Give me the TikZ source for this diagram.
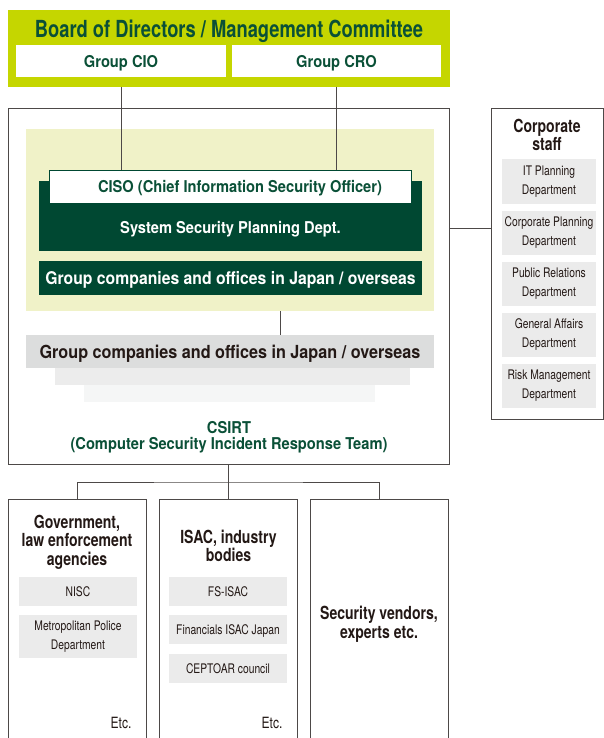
\documentclass[tikz,border=0pt]{standalone}
\usepackage{fontspec}
\setmainfont{TeX Gyre Heros}
\newfontfamily\semifont{TeX Gyre Heros}[FakeStretch=0.9]
\newfontfamily\condfont{TeX Gyre Heros}[FakeStretch=0.78]

\definecolor{lime}{RGB}{197,214,0}
\definecolor{darkgreen}{RGB}{0,72,50}
\definecolor{textgreen}{RGB}{10,80,55}
\definecolor{paleyellow}{RGB}{240,242,200}
\definecolor{gray1}{RGB}{220,221,221}
\definecolor{gray2}{RGB}{236,236,236}
\definecolor{gray3}{RGB}{245,246,246}
\definecolor{deptgray}{RGB}{235,235,235}
\definecolor{linegray}{RGB}{77,73,72}
\definecolor{textblack}{RGB}{35,24,21}

\begin{document}
\begin{tikzpicture}[x=1pt,y=-1pt]
	\tikzset{fillbox/.style = {shape=rectangle, inner sep=0pt, outer sep=0pt},
		frame/.style = {fillbox, draw=linegray, line width=0.8pt},
		wire/.style = {draw=linegray, line width=0.8pt},
		greentext/.style = {text=textgreen, font=\semifont\bfseries\fontsize{16.3}{17}\selectfont},
		whitetext/.style = {text=white, font=\semifont\bfseries\fontsize{16.3}{17}\selectfont},
		title/.style = {text=textblack, align=center, font=\condfont\bfseries\fontsize{18}{18.5}\selectfont},
		dept/.style = {fillbox, fill=deptgray, minimum width=94pt, minimum height=44pt, align=center, text=textblack, font=\condfont\fontsize{13.2}{19}\selectfont},
		member/.style = {dept, minimum width=118pt, minimum height=29pt}}

	\useasboundingbox[fill=white] (0,0) rectangle (603,738);

	\node[fillbox, fill=lime, minimum width=442pt, minimum height=77pt] (board) at (229,48.5) {};
	\node[text=textgreen, font=\condfont\bfseries\fontsize{23.5}{26}\selectfont] (board_title) at (229,31) {Board of Directors / Management Committee};
	\node[fillbox, fill=white, minimum width=210pt, minimum height=32pt, text depth=0pt, greentext] (cio) at (121,61) {Group CIO};
	\node[fillbox, fill=white, minimum width=209pt, minimum height=32pt, text depth=0pt, greentext] (cro) at (336.5,61) {Group CRO};

	\node[frame, minimum width=441pt, minimum height=356pt] (csirt) at (228.5,286) {};
	\node[fillbox, fill=paleyellow, minimum width=408pt, minimum height=182pt] (hq) at (230,220) {};
	\node[fillbox, fill=darkgreen, minimum width=383pt, minimum height=70pt] (ssp) at (230.5,216) {};
	\node[fillbox, fill=white, draw=darkgreen, line width=0.6pt, minimum width=362pt, minimum height=33pt] (ciso) at (230,186.5) {};
	\node[greentext] (ciso_label) at (240,188) {CISO (Chief Information Security Officer)};
	\node[whitetext] (ssp_label) at (230.5,229) {System Security Planning Dept.};
	\node[fillbox, fill=darkgreen, minimum width=383pt, minimum height=34pt, text depth=0pt, whitetext, font=\semifont\bfseries\fontsize{17.5}{18}\selectfont] (group_jp) at (230.5,278) {Group companies and offices in Japan / overseas};

	\node[fillbox, fill=gray3, minimum width=291pt, minimum height=17pt] (shade_2) at (229.5,393.5) {};
	\node[fillbox, fill=gray2, minimum width=355pt, minimum height=17pt] (shade_1) at (232.5,376.5) {};
	\node[fillbox, fill=gray1, minimum width=408pt, minimum height=33pt, text depth=0pt, text=textblack, font=\semifont\bfseries\fontsize{18}{18}\selectfont] (group_ov) at (230,351.5) {Group companies and offices in Japan / overseas};
	\node[greentext, align=center, font=\semifont\bfseries\fontsize{16.3}{16}\selectfont] (csirt_label) at (229,437) {CSIRT\\(Computer Security Incident Response Team)};

	\node[frame, minimum width=112pt, minimum height=311pt] (staff) at (547,263.5) {};
	\node[title, font=\condfont\bfseries\fontsize{18}{17}\selectfont] (staff_title) at (547,135) {Corporate\\staff};
	\foreach \name/\txt [count=\i] in {it/IT Planning\\Department, plan/Corporate Planning\\Department, pr/Public Relations\\Department, ga/General Affairs\\Department, risk/Risk Management\\Department}
		\node[dept] (dept_\name) at (549,130.5+51*\i) {\txt};

	\node[frame, minimum width=138pt, minimum height=250pt] (govt) at (77,624) {};
	\node[frame, minimum width=138pt, minimum height=250pt] (isac) at (228.5,624) {};
	\node[frame, minimum width=138pt, minimum height=250pt] (vendor) at (379,624) {};

	\node[title] (govt_title) at (77,542) {Government,\\law enforcement\\agencies};
	\node[title] (isac_title) at (228.5,546) {ISAC, industry\\bodies};
	\node[title, font=\condfont\bfseries\fontsize{18}{19}\selectfont] (vendor_title) at (379,624.5) {Security vendors,\\experts etc.};

	\node[member, text depth=0pt] (nisc) at (78,591.5) {NISC};
	\node[member, minimum height=43pt] (mpd) at (78,636.5) {Metropolitan Police\\Department};
	\node[member, text depth=0pt] (fs_isac) at (228,591.5) {FS-ISAC};
	\node[member, text depth=0pt] (f_isac) at (228,629.5) {Financials ISAC Japan};
	\node[member, text depth=0pt] (ceptoar) at (228,668.5) {CEPTOAR council};
	\node[title, anchor=east, font=\condfont\fontsize{15.5}{16}\selectfont] (govt_etc) at (135,723) {Etc.};
	\node[title, anchor=east, font=\condfont\fontsize{15.5}{16}\selectfont] (isac_etc) at (286,723) {Etc.};

	\draw[wire] (cio |- board.south) -- (cio |- ciso.north);
	\draw[wire] (cro |- board.south) -- (cro |- ciso.north);
	\draw[wire] ([xshift=50pt]hq.south) -- ([xshift=50pt]hq.south |- group_ov.north);
	\draw[wire] ([yshift=35.5pt]staff.west) -- ([yshift=35.5pt]staff.west -| csirt.east);

	\coordinate (split) at (228.5,482);
	\draw[wire] (csirt.south) -- (isac.north);
	\draw[wire] (govt.north) |- (split) -| (vendor.north);

\end{tikzpicture}
\end{document}
